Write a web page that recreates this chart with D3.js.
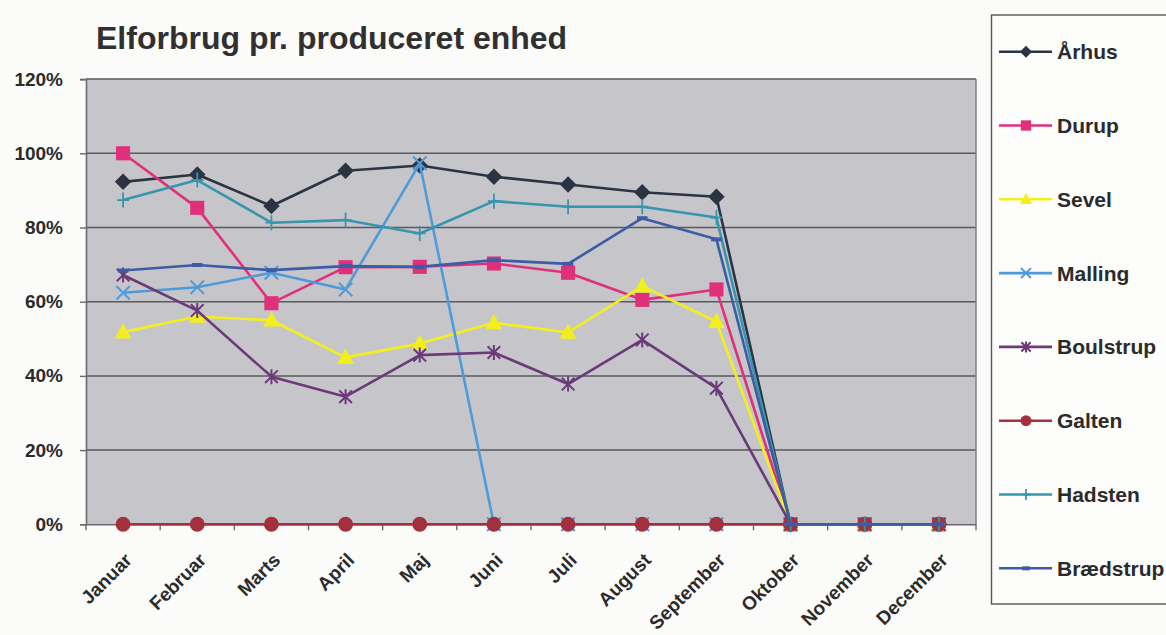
<!DOCTYPE html>
<html>
<head>
<meta charset="utf-8">
<title>Elforbrug pr. produceret enhed</title>
<script src="https://cdn.jsdelivr.net/npm/d3@7"></script>
<style>
  html, body { margin: 0; padding: 0; background: #fbfbfa; }
  svg { display: block; }
  text { font-family: "Liberation Sans", Arial, sans-serif; font-weight: bold; fill: #2b2b2b; }
</style>
</head>
<body>
<svg id="chart" width="1166" height="635"></svg>
<script>
// Months on the category axis
const months = ["Januar", "Februar", "Marts", "April", "Maj", "Juni", "Juli",
                "August", "September", "Oktober", "November", "December"];

// Power use per produced unit, per site (fraction, 1 = 100%)
const aarhus     = [0.923, 0.943, 0.858, 0.953, 0.967, 0.937, 0.916, 0.895, 0.883, 0, 0, 0];
const durup      = [1.000, 0.853, 0.596, 0.693, 0.694, 0.703, 0.678, 0.605, 0.633, 0, 0, 0];
const sevel      = [0.518, 0.560, 0.550, 0.450, 0.487, 0.543, 0.517, 0.642, 0.546, 0, 0, 0];
const malling    = [0.624, 0.639, 0.678, 0.633, 0.973, 0, 0, 0, 0, 0, 0, 0];
const boulstrup  = [0.672, 0.576, 0.398, 0.344, 0.456, 0.463, 0.378, 0.497, 0.367, 0, 0, 0];
const galten     = [0, 0, 0, 0, 0, 0, 0, 0, 0, 0, 0, 0];
const hadsten    = [0.874, 0.928, 0.813, 0.820, 0.784, 0.871, 0.856, 0.856, 0.827, 0, 0, 0];
const braedstrup = [0.684, 0.699, 0.685, 0.696, 0.694, 0.712, 0.702, 0.825, 0.768, 0, 0, 0];

const seriesNames = ["Århus", "Durup", "Sevel", "Malling", "Boulstrup", "Galten", "Hadsten", "Brædstrup"];
const seriesValues = [aarhus, durup, sevel, malling, boulstrup, galten, hadsten, braedstrup];
const seriesColors = ["#2c3444", "#e0307c", "#f3ef1c", "#4f9ad8", "#6b3a78", "#a3303f", "#3795ae", "#3c5ca3"];
const seriesMarkers = ["diamond", "square", "triangle", "x", "asterisk", "circle", "plus", "dash"];

const yTicks = [0, 0.2, 0.4, 0.6, 0.8, 1.0, 1.2];
const title = "Elforbrug pr. produceret enhed";

const svg = d3.select("#chart");
const plot = { left: 86, right: 976, top: 79.1, bottom: 524.3 };

const x = d3.scaleBand().domain(months).range([plot.left, plot.right]).padding(0);
const y = d3.scaleLinear().domain([0, 1.2]).range([plot.bottom, plot.top]);
const cx = m => x(m) + x.bandwidth() / 2;

// Title
svg.append("text")
  .attr("x", 96).attr("y", 49)
  .style("font-size", "32px")
  .style("fill", "#303030")
  .text(title);

// Plot area background
svg.append("rect")
  .attr("x", plot.left).attr("y", plot.top)
  .attr("width", plot.right - plot.left).attr("height", plot.bottom - plot.top)
  .attr("fill", "#c6c6ca");

// Horizontal gridlines
svg.append("g").selectAll("line")
  .data(yTicks.filter(d => d > 0))
  .join("line")
  .attr("x1", plot.left).attr("x2", plot.right)
  .attr("y1", d => y(d)).attr("y2", d => y(d))
  .attr("stroke", "#5a5a5e").attr("stroke-width", 1.5);

// Right border of the plot area
svg.append("line")
  .attr("x1", plot.right).attr("x2", plot.right)
  .attr("y1", plot.top).attr("y2", plot.bottom)
  .attr("stroke", "#808084").attr("stroke-width", 1.5);

// Y axis
const yAxis = svg.append("g")
  .attr("transform", `translate(${plot.left},0)`)
  .call(d3.axisLeft(y).tickValues(yTicks).tickFormat(d3.format(".0%")).tickSize(6).tickPadding(17));
yAxis.select(".domain").attr("stroke", "#6a6a6e").attr("stroke-width", 1.6);
yAxis.selectAll(".tick line").attr("stroke", "#6a6a6e").attr("stroke-width", 1.4);
yAxis.selectAll(".tick text")
  .style("font-size", "19px")
  .style("font-family", "'Liberation Sans', Arial, sans-serif")
  .style("font-weight", "bold")
  .attr("fill", "#2b2b2b");

// X axis: labels at month centres, ticks at month boundaries
const xAxis = svg.append("g")
  .attr("transform", `translate(0,${plot.bottom})`)
  .call(d3.axisBottom(x).tickSize(0));
xAxis.select(".domain").attr("stroke", "#6a6a6e").attr("stroke-width", 1.6);
xAxis.selectAll(".tick text")
  .attr("x", 0).attr("y", 0).attr("dy", 0)
  .attr("text-anchor", "end")
  .attr("transform", "translate(10,37) rotate(-45)")
  .style("font-size", "19px")
  .style("font-family", "'Liberation Sans', Arial, sans-serif")
  .style("font-weight", "bold")
  .attr("fill", "#2b2b2b");
xAxis.append("g").selectAll("line")
  .data(months.map(m => x(m)).concat([plot.right]))
  .join("line")
  .attr("x1", d => d).attr("x2", d => d)
  .attr("y1", 0).attr("y2", 6)
  .attr("stroke", "#6a6a6e").attr("stroke-width", 1.4);

// Marker shapes
function drawMarker(g, type, color, s) {
  switch (type) {
    case "diamond":
      g.append("path").attr("d", `M0,${-s * 0.55}L${s * 0.55},0L0,${s * 0.55}L${-s * 0.55},0Z`).attr("fill", color);
      break;
    case "square":
      g.append("rect").attr("x", -s * 0.47).attr("y", -s * 0.47).attr("width", s * 0.94).attr("height", s * 0.94).attr("fill", color);
      break;
    case "triangle":
      g.append("path").attr("d", `M0,${-s * 0.6}L${s * 0.55},${s * 0.42}L${-s * 0.55},${s * 0.42}Z`).attr("fill", color);
      break;
    case "x":
      g.append("path").attr("d", `M${-s * 0.45},${-s * 0.45}L${s * 0.45},${s * 0.45}M${s * 0.45},${-s * 0.45}L${-s * 0.45},${s * 0.45}`)
        .attr("stroke", color).attr("stroke-width", 2);
      break;
    case "asterisk":
      g.append("path").attr("d", `M${-s * 0.42},${-s * 0.42}L${s * 0.42},${s * 0.42}M${s * 0.42},${-s * 0.42}L${-s * 0.42},${s * 0.42}M0,${-s * 0.5}L0,${s * 0.5}`)
        .attr("stroke", color).attr("stroke-width", 2);
      break;
    case "circle":
      g.append("circle").attr("r", s * 0.5).attr("fill", color);
      break;
    case "plus":
      g.append("path").attr("d", `M0,${-s * 0.5}L0,${s * 0.5}M${-s * 0.4},0L${s * 0.4},0`)
        .attr("stroke", color).attr("stroke-width", 1.8);
      break;
    case "dash":
      g.append("path").attr("d", `M${-s * 0.35},0L${s * 0.35},0`)
        .attr("stroke", color).attr("stroke-width", 4);
      break;
  }
}

const line = d3.line().x((d, i) => cx(months[i])).y(d => y(d));

// Series lines and markers
seriesValues.forEach((vals, k) => {
  const g = svg.append("g");
  g.append("path")
    .datum(vals)
    .attr("d", line)
    .attr("fill", "none")
    .attr("stroke", seriesColors[k])
    .attr("stroke-width", 2.6)
    .attr("stroke-linejoin", "round");
  vals.forEach((v, i) => {
    const mg = g.append("g").attr("transform", `translate(${cx(months[i])},${y(v)})`);
    drawMarker(mg, seriesMarkers[k], seriesColors[k], 15);
  });
});

// Legend
const legend = svg.append("g");
legend.append("rect")
  .attr("x", 991.5).attr("y", 15)
  .attr("width", 200).attr("height", 589)
  .attr("fill", "#fdfdfc").attr("stroke", "#555").attr("stroke-width", 1.4);
seriesNames.forEach((name, k) => {
  const ly = 51.7 + k * 73.8;
  const lg = legend.append("g");
  lg.append("line")
    .attr("x1", 999).attr("x2", 1052).attr("y1", ly).attr("y2", ly)
    .attr("stroke", seriesColors[k]).attr("stroke-width", 2.6);
  const mg = lg.append("g").attr("transform", `translate(1026,${ly})`);
  drawMarker(mg, seriesMarkers[k], seriesColors[k], 11);
  lg.append("text")
    .attr("x", 1057).attr("y", ly + 7.5)
    .style("font-size", "21px")
    .text(name);
});
</script>
</body>
</html>
